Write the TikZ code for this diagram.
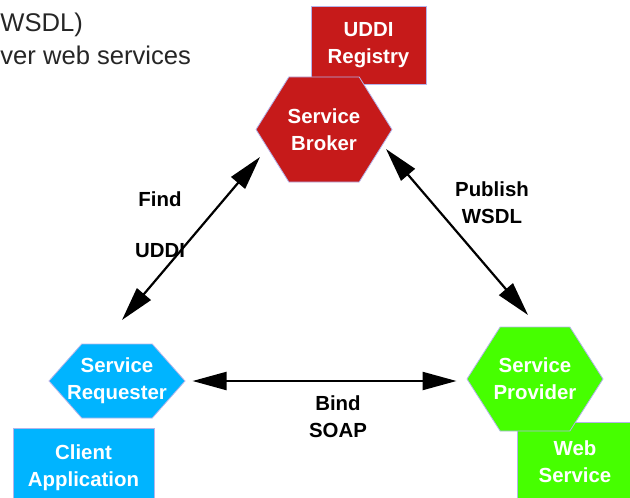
\documentclass[tikz,border=0pt]{standalone}
\usepackage{fontspec}
\setmainfont{Liberation Sans}
\usetikzlibrary{shapes.symbols, arrows.meta}
\definecolor{brokerred}{RGB}{198,26,26}
\definecolor{requestblue}{RGB}{0,180,255}
\definecolor{providergreen}{RGB}{70,255,0}
\definecolor{edgeline}{RGB}{180,180,235}
\newcommand{\boxfont}{\fontsize{10.2}{13.5}\selectfont\bfseries}
\tikzset{
  hexnode/.style={signal, signal to=west and east, draw=edgeline, line width=0.4pt,
    inner sep=0pt},
  hextext/.style={text=white, font=\boxfont, align=center, inner sep=0pt},
  boxnode/.style={rectangle, draw=edgeline, line width=0.4pt, text=white,
    font=\boxfont, align=center, inner sep=0pt},
  link/.style={line width=1.1pt, {Triangle[length=17pt,width=9pt]}-{Triangle[length=17pt,width=9pt]}},
  linklabel/.style={font=\boxfont, align=center, inner sep=0pt}
}
\begin{document}
\begin{tikzpicture}[x=0.5pt, y=-0.5pt]
      \useasboundingbox (0,0) rectangle (630,497);
      % slide text
      \node[anchor=base west, inner sep=0pt, font=\fontsize{12.8}{16.5}\selectfont, text=black!85] (wsdltxt) at (0,32) {WSDL)};
      \node[anchor=base west, inner sep=0pt, font=\fontsize{12.8}{16.5}\selectfont, text=black!85] (webtxt) at (0,65) {ver web services};
      % boxes behind the hexagons
      \node[boxnode, fill=brokerred, minimum width=57.5pt, minimum height=39pt] (registry) at (368.5,45) {UDDI\\Registry};
      \node[boxnode, fill=requestblue, minimum width=70.5pt, minimum height=39.5pt] (client) at (83.5,467.5) {Client\\Application};
      \node[boxnode, fill=providergreen, minimum width=58pt, minimum height=40pt] (websvc) at (575,462) {Web\\Service};
      % hexagons
      \node[hexnode, fill=brokerred, minimum width=68pt, minimum height=52.5pt, signal pointer angle=116,
        label={[hextext]center:Service\\Broker}] (broker) at (324,129.5) {};
      \node[hexnode, fill=requestblue, minimum width=68pt, minimum height=37pt, signal pointer angle=97,
        label={[hextext]center:Service\\Requester}] (requester) at (117,381) {};
      \node[hexnode, fill=providergreen, minimum width=68pt, minimum height=52pt, signal pointer angle=115,
        label={[hextext]center:Service\\Provider}] (provider) at (535,379) {};
      % arrow ends
      \coordinate (findA) at (122,320);
      \coordinate (findB) at (260,157);
      \coordinate (pubA) at (386,149);
      \coordinate (pubB) at (528,315);
      \draw[link] (findA) -- (findB);
      \draw[link] (pubA) -- (pubB);
      \draw[link, shorten <=3.5pt, shorten >=5pt] (requester.east) -- (requester.east -| provider.west);
      % labels
      \node[linklabel] (findlbl) at (160,224.5) {Find\\[12pt]UDDI};
      \node[linklabel] (publbl) at (492,203) {Publish\\WSDL};
      \node[linklabel] (bindlbl) at (338,416.5) {Bind\\SOAP};
\end{tikzpicture}
\end{document}
